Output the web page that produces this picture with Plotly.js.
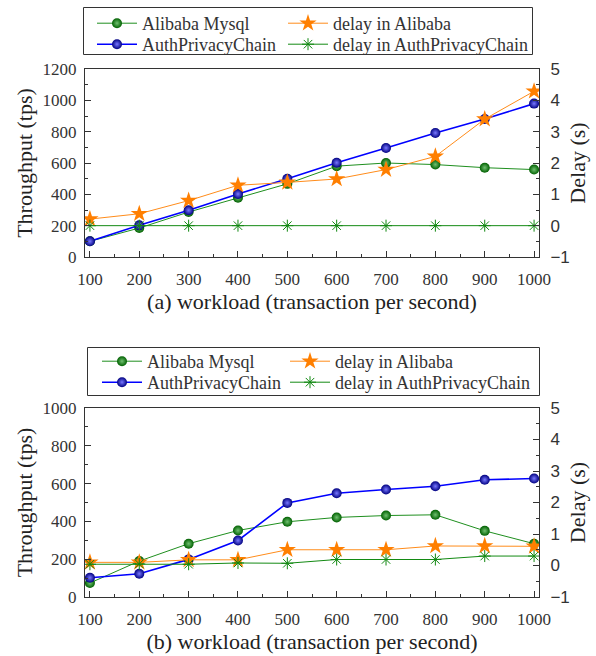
<!DOCTYPE html>
<html><head><meta charset="utf-8">
<script src="https://cdn.plot.ly/plotly-3.0.1.min.js"></script>
</head><body style="margin:0;padding:0;background:#fff"><div id="c" style="width:596px;height:656px"></div>
<script>
const workload = [100,200,300,400,500,600,700,800,900,1000];
const names = ['Alibaba Mysql','delay in Alibaba','AuthPrivacyChain','delay in AuthPrivacyChain'];
// (a)
const a_mysql = [100,185,287,378,467,580,600,590,570,558];
const a_chain = [100,202,298,402,500,602,696,792,881,979];
const a_delayAli = [0.21,0.38,0.80,1.29,1.38,1.49,1.79,2.21,3.40,4.29];
const a_delayChain = [0,0,0,0,0,0,0,0,0,0];
// (b)
const b_mysql = [74,190,282,352,398,421,431,435,350,282];
const b_chain = [102,123,199,299,498,549,569,586,620,627];
const b_delayAli = [0.1,0.1,0.18,0.18,0.5,0.5,0.5,0.62,0.62,0.61];
const b_delayChain = [0.04,0.05,0.04,0.08,0.07,0.19,0.19,0.19,0.3,0.3];
const xTitles = ['(a) workload (transaction per second)','(b) workload (transaction per second)'];
const yTitle = 'Throughput (tps)', y2Title = 'Delay (s)';

const SERIF = 'Liberation Serif';
const SANS = 'Liberation Sans';
function mk(xa, ya, y, name, kind, leg){
  const t = {x: workload, y: y, name: name, type:'scatter', mode:'lines+markers',
    xaxis: xa, yaxis: ya, legend: leg};
  if(kind==='gball'){ t.line={color:'#1f8f1f',width:1}; t.marker={symbol:'circle',size:10,color:'#006000',gradient:{type:'radial',color:'#70c070'},line:{width:0}}; }
  if(kind==='bball'){ t.line={color:'#0000ff',width:1.6}; t.marker={symbol:'circle',size:10,color:'#000080',gradient:{type:'radial',color:'#7878ff'},line:{width:0}}; }
  if(kind==='star'){ t.line={color:'#ff8c1a',width:1}; t.marker={symbol:'star',size:13,color:'#ff7f00',line:{width:0}}; }
  if(kind==='ast'){ t.line={color:'#138a13',width:1}; t.marker={symbol:'asterisk-open',size:10,color:'#118811',line:{width:1,color:'#118811'}}; }
  return t;
}
const data = [
  mk('x','y',a_mysql,names[0],'gball','legend'),
  mk('x','y2',a_delayAli,names[1],'star','legend2'),
  mk('x','y',a_chain,names[2],'bball','legend3'),
  mk('x','y2',a_delayChain,names[3],'ast','legend4'),
  mk('x2','y3',b_mysql,names[0],'gball','legend5'),
  mk('x2','y4',b_delayAli,names[1],'star','legend6'),
  mk('x2','y3',b_chain,names[2],'bball','legend7'),
  mk('x2','y4',b_delayChain,names[3],'ast','legend8'),
];
const W=596,H=656;
const xd=[85/W,539/W];
const AX='#333';
function base(){ return {showline:true, linecolor:AX, linewidth:1, ticks:'inside', ticklen:6, tickcolor:AX,
  tickfont:{family:SERIF,size:17,color:'#333'}, showgrid:false, zeroline:false}; }
function xa(dom, anchor, title){
  return Object.assign(base(), {domain:dom, anchor:anchor, range:[90,1010], tickvals:workload, mirror:true,
    ticklabelstandoff:7,
    minor:{dtick:50, tick0:50, ticks:'inside', ticklen:3, tickcolor:AX},
    title:{text:title, font:{family:SERIF,size:22,color:'#222'}, standoff:0}});
}
function yl(dom, anchor, rng, dt, title){
  return Object.assign(base(), {domain:dom, anchor:anchor, range:rng, dtick:dt, ticklabelstandoff:4,
    minor:{dtick:dt/2, ticks:'inside', ticklen:3, tickcolor:AX},
    title:{text:title, font:{family:SERIF,size:22,color:'#222'}, standoff:3}});
}
function yr(ov, anchor, title){
  return Object.assign(base(), {overlaying:ov, anchor:anchor, side:'right', range:[-1,5], dtick:1, ticklabelstandoff:7,
    tickfont:{family:SANS,size:17,color:'#333'},
    minor:{dtick:0.5, ticks:'inside', ticklen:3, tickcolor:AX},
    title:{text:title, font:{family:SERIF,size:22,color:'#222'}, standoff:0}});
}
const topD=[1-257/H, 1-69/H], botD=[1-597/H, 1-408/H];
function leg(xpx, ypx){ return {orientation:'v', xanchor:'left', yanchor:'top', x:xpx/W, y:1-ypx/H,
  bgcolor:'rgba(0,0,0,0)', borderwidth:0, font:{family:SERIF,size:18,color:'#333'}, itemwidth:40, tracegroupgap:0}; }
const layout = {
  width:W, height:H, margin:{l:0,r:0,t:0,b:0}, paper_bgcolor:'#fff', plot_bgcolor:'#fff',
  font:{family:SERIF},
  xaxis: xa(xd,'y',xTitles[0]),
  yaxis: yl(topD,'x',[0,1200],200,yTitle),
  yaxis2: yr('y','x',y2Title),
  xaxis2: xa(xd,'y3',xTitles[1]),
  yaxis3: yl(botD,'x2',[0,1000],200,yTitle),
  yaxis4: yr('y3','x2',y2Title),
  legend: leg(92, 5),
  legend2: leg(283, 5),
  legend3: leg(92, 26),
  legend4: leg(283, 26),
  legend5: leg(97, 343),
  legend6: leg(285, 343),
  legend7: leg(97, 364),
  legend8: leg(285, 364),
  shapes:[
    {type:'rect', xref:'paper', yref:'paper', x0:83.5/W, x1:532.5/W, y0:1-54.5/H, y1:1-7.5/H, line:{color:'#333',width:1}, layer:'below'},
    {type:'rect', xref:'paper', yref:'paper', x0:87.5/W, x1:539.5/W, y0:1-395.5/H, y1:1-347.5/H, line:{color:'#333',width:1}, layer:'below'}
  ],
  showlegend:true
};
Plotly.newPlot('c', data, layout, {displayModeBar:false});
</script></body></html>
